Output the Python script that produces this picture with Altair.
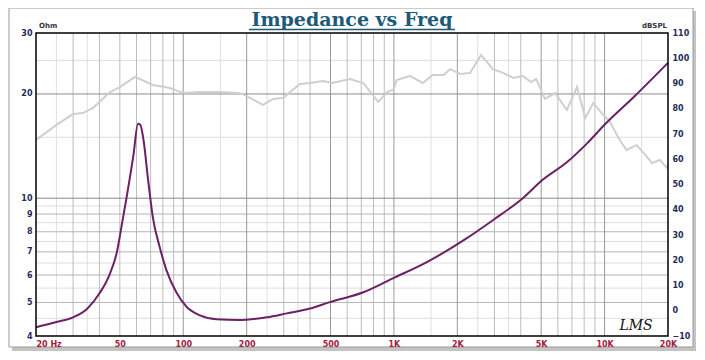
import altair as alt
import pandas as pd

# ---------------- data ----------------
imp_freq = [20, 25, 30, 34.9, 40.2, 44.9, 48.3, 51.3, 54.2, 57.9, 61, 62.5, 64.8, 68.1, 71.7,
            77.3, 83.2, 93.0, 103.9, 120, 144, 186, 200, 250, 310, 400, 496, 716, 988,
            1434, 2220, 2950, 4090, 5080, 6620, 8260, 10000, 14000, 20000]
imp_ohm = [4.24, 4.39, 4.53, 4.79, 5.33, 6.06, 6.94, 8.5, 10.3, 13.2, 16.4, 16.3, 14.7, 11.3, 8.82,
           7.23, 6.2, 5.33, 4.85, 4.59, 4.47, 4.45, 4.46, 4.53, 4.65, 4.8, 5.01, 5.35, 5.87,
           6.54, 7.67, 8.64, 10.0, 11.3, 12.7, 14.4, 16.3, 19.8, 24.6]

spl_freq = [20, 25, 30, 33.4, 37.3, 40, 44.9, 50, 59, 71.8, 86.6, 100, 120, 149, 182,
            192, 239, 267, 298, 358, 400, 460, 510, 618, 716, 842, 930, 1000, 1030, 1190,
            1370, 1530, 1720, 1850, 2070, 2300, 2590, 2950, 3300, 3690, 4080, 4480, 4730, 5210, 5830,
            6620, 7400, 8100, 8840, 9870, 10600, 11800, 12700, 14200, 15600, 16800, 18300, 19800, 20000]
spl_db = [67.6, 73.6, 77.9, 78.3, 80.3, 82.7, 86.6, 88.6, 92.6, 89.4, 88.2, 86.2, 86.6, 86.6, 86.2,
          85.8, 81.5, 83.9, 84.3, 89.8, 90.2, 91.0, 90.2, 91.8, 90.2, 82.7, 86.6, 87.8, 91.4, 93.0,
          90.2, 93.4, 93.4, 95.7, 93.8, 94.2, 101.3, 95.7, 94.2, 92.2, 93.0, 90.6, 91.8, 83.9, 86.2,
          79.5, 88.6, 76.3, 82.3, 77.5, 74.8, 67.6, 63.7, 65.6, 61.7, 58.5, 59.7, 56.5, 58.5]

x_ticks = [20, 50, 100, 200, 500, 1000, 2000, 5000, 10000, 20000]
ohm_ticks = [4, 5, 6, 7, 8, 9, 10, 20, 30]
db_ticks = [-10, 0, 10, 20, 30, 40, 50, 60, 70, 80, 90, 100, 110]

vgrid_dark = [100, 200, 500, 1000, 2000, 5000, 10000]
vgrid_mid = [30, 40, 50, 60, 70, 80, 90, 300, 400, 600, 700, 800, 900,
             3000, 4000, 6000, 7000, 8000, 9000]
vgrid_light = [25, 35, 150, 250, 350, 1500, 2500, 3500, 15000]
hgrid_dark = [10, 20]
hgrid_mid = [5, 6, 7, 8, 9]
hgrid_light = [4.5, 5.5, 6.5, 7.5, 8.5, 9.5, 15, 25]

title_text = ["Impedance vs Freq"]
left_unit = ["Ohm"]
right_unit = ["dBSPL"]
signature = ["LMS"]

W, H = 632, 303

# ---------------- scales / axes ----------------
xscale = alt.Scale(type="log", domain=[20, 20000], nice=False)
yscale_ohm = alt.Scale(type="log", domain=[4, 30], nice=False)
yscale_db = alt.Scale(type="linear", domain=[-10, 110], nice=False, zero=False)

x_axis = alt.Axis(
    values=x_ticks, title=None, grid=False, domain=False, ticks=False, zindex=2,
    labelExpr="datum.value == 20 ? '20  Hz' : (datum.value >= 1000 ? (datum.value/1000) + 'K' : '' + datum.value)",
    labelFont="DejaVu Sans", labelFontWeight="bold", labelFontSize=8,
    labelColor="#a3203f", labelPadding=4, labelFlush=False, labelOverlap=False,
    labelAlign={"condition": {"test": "datum.value == 20", "value": "left"}, "value": "center"},
)
ohm_axis = alt.Axis(
    values=ohm_ticks, title=None, grid=False, domain=False, ticks=False, orient="left", zindex=2,
    labelFont="DejaVu Sans", labelFontWeight="bold", labelFontSize=8,
    labelColor="#1e2d5a", labelPadding=4, labelOverlap=False, labelFlush=False,
)
db_axis = alt.Axis(
    values=db_ticks, title=None, grid=False, domain=False, ticks=False, orient="right", zindex=2,
    labelFont="DejaVu Sans", labelFontWeight="bold", labelFontSize=8,
    labelColor="#1e2d5a", labelPadding=4, labelOverlap=False, labelFlush=False,
)

# ---------------- decoration ----------------
one = pd.DataFrame({"k": [0]})
shadow = alt.Chart(one).mark_rect(fill="#c4c4c4").encode(
    x=alt.value(-24), x2=alt.value(660), y=alt.value(-22), y2=alt.value(318))
frame = alt.Chart(one).mark_rect(fill="white", stroke="#9a9a9a", strokeWidth=1).encode(
    x=alt.value(-27), x2=alt.value(657), y=alt.value(-25), y2=alt.value(314))


def vrules(vals, color):
    return alt.Chart(pd.DataFrame({"f": vals})).mark_rule(color=color, strokeWidth=1).encode(
        x=alt.X("f:Q", scale=xscale, axis=x_axis))


def hrules(vals, color):
    return alt.Chart(pd.DataFrame({"ohm": vals})).mark_rule(color=color, strokeWidth=1).encode(
        y=alt.Y("ohm:Q", scale=yscale_ohm, axis=None))


grid = [
    vrules(vgrid_light, "#dedede"),
    hrules(hgrid_light, "#dedede"),
    vrules(vgrid_mid, "#bdbdbd"),
    hrules(hgrid_mid, "#b5b5b5"),
    vrules(vgrid_dark, "#9a9a9a"),
    hrules(hgrid_dark, "#8a8a8a"),
]

# ---------------- curves ----------------
spl = alt.Chart(pd.DataFrame({"f": spl_freq, "db": spl_db})).mark_line(
    color="#cfcfcf", strokeWidth=2).encode(
    x=alt.X("f:Q", scale=xscale, axis=x_axis),
    y=alt.Y("db:Q", scale=yscale_db, axis=db_axis),
)
imp = alt.Chart(pd.DataFrame({"f": imp_freq, "ohm": imp_ohm})).mark_line(
    color="#6b2262", strokeWidth=2, interpolate="monotone").encode(
    x=alt.X("f:Q", scale=xscale, axis=x_axis),
    y=alt.Y("ohm:Q", scale=yscale_ohm, axis=ohm_axis),
)

border = alt.Chart(one).mark_rect(filled=False, stroke="black", strokeWidth=1.5).encode(
    x=alt.value(0), x2=alt.value(W), y=alt.value(0), y2=alt.value(H))

title = alt.Chart(pd.DataFrame({"t": title_text})).mark_text(
    font="DejaVu Serif", fontSize=19, fontWeight="bold", color="#1d5a78",
    align="center", baseline="alphabetic").encode(
    text="t:N", x=alt.value(316), y=alt.value(-7))
underline = alt.Chart(one).mark_rule(color="#1d5a78", strokeWidth=1.5).encode(
    x=alt.value(213), x2=alt.value(419), y=alt.value(-3.5))
ohm_lbl = alt.Chart(pd.DataFrame({"t": left_unit})).mark_text(
    font="DejaVu Sans", fontSize=7, fontWeight="bold", color="#333344",
    align="left", baseline="alphabetic").encode(text="t:N", x=alt.value(3), y=alt.value(-5))
db_lbl = alt.Chart(pd.DataFrame({"t": right_unit})).mark_text(
    font="DejaVu Sans", fontSize=7, fontWeight="bold", color="#333344",
    align="right", baseline="alphabetic").encode(text="t:N", x=alt.value(631), y=alt.value(-5))
sig = alt.Chart(pd.DataFrame({"t": signature})).mark_text(
    font="DejaVu Serif", fontSize=14, fontStyle="italic", color="#111111",
    align="center", baseline="middle").encode(text="t:N", x=alt.value(600), y=alt.value(293))

chart = alt.layer(
    shadow, frame, *grid, spl, imp, border, title, underline, ohm_lbl, db_lbl, sig
).resolve_scale(y="independent").properties(
    width=W, height=H,
    autosize=alt.AutoSizeParams(type="none"),
    padding={"left": 28, "top": 25, "right": 29, "bottom": 16},
    background="white",
).configure_view(stroke=None)

chart.save("out.html", embed_options={"renderer": "svg", "actions": False})
